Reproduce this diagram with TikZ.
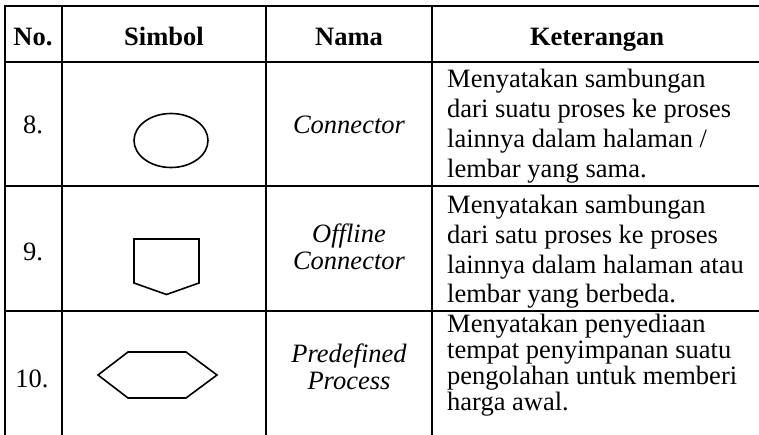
\documentclass[tikz,border=0pt]{standalone}
\usepackage{fontspec}
\setmainfont{Liberation Serif}
\begin{document}
\begin{tikzpicture}[x=1pt,y=-1pt,
  grid/.style={line width=2.3pt,line cap=rect},
  symbolline/.style={line width=1.6pt,line join=miter},
  cell/.style={inner sep=0pt,font=\fontsize{26.5}{29}\selectfont},
  head/.style={cell,anchor=base,font=\fontsize{26.5}{29}\selectfont\bfseries},
  num/.style={cell,anchor=base},
  nama/.style={cell,anchor=base,font=\fontsize{26.5}{29}\selectfont\itshape},
  desc/.style={cell,anchor=base west}]
\useasboundingbox (0,0) rectangle (759,434);

% table rules (open on the right and at the bottom)
\draw[grid] (5,6) -- (759,6);
\draw[grid] (5,62) -- (759,62);
\draw[grid] (5,186) -- (759,186);
\draw[grid] (5,311) -- (759,311);
\draw[grid] (5,6) -- (5,434);
\draw[grid] (62,6) -- (62,434);
\draw[grid] (266,6) -- (266,434);
\draw[grid] (432,6) -- (432,434);

% header row
\node[head] (hno) at (33,45) {No.};
\node[head] (hsim) at (164,45) {Simbol};
\node[head] (hnama) at (349,45) {Nama};
\node[head] (hket) at (597,45) {Keterangan};

% row 8: connector
\node[num] (n8) at (33,133) {8.};
\draw[symbolline] (171,140.5) ellipse [x radius=37, y radius=27];
\node[nama] (m8) at (349,133) {Connector};
\node[desc] (d8a) at (447,87) {Menyatakan sambungan};
\node[desc] (d8b) at (447,117) {dari suatu proses ke proses};
\node[desc] (d8c) at (447,147) {lainnya dalam halaman /};
\node[desc] (d8d) at (447,177) {lembar yang sama.};

% row 9: offline connector
\node[num] (n9) at (33,260) {9.};
\draw[symbolline] (134,239) -- (199,239) -- (199,283) -- (166.5,294.5) -- (134,283) -- cycle;
\node[nama] (m9a) at (349,242) {Offline};
\node[nama] (m9b) at (349,269) {Connector};
\node[desc] (d9a) at (447,213) {Menyatakan sambungan};
\node[desc] (d9b) at (447,243) {dari satu proses ke proses};
\node[desc] (d9c) at (447,273) {lainnya dalam halaman atau};
\node[desc] (d9d) at (447,302) {lembar yang berbeda.};

% row 10: predefined process
\node[num] (n10) at (32,387) {10.};
\draw[symbolline] (98,375) -- (128,352) -- (186,352) -- (217,375) -- (186,398) -- (128,398) -- cycle;
\node[nama] (m10a) at (349,362) {Predefined};
\node[nama] (m10b) at (349,389) {Process};
\node[desc] (d10a) at (447,332) {Menyatakan penyediaan};
\node[desc] (d10b) at (447,358) {tempat penyimpanan suatu};
\node[desc] (d10c) at (447,384) {pengolahan untuk memberi};
\node[desc] (d10d) at (447,410) {harga awal.};
\end{tikzpicture}
\end{document}
